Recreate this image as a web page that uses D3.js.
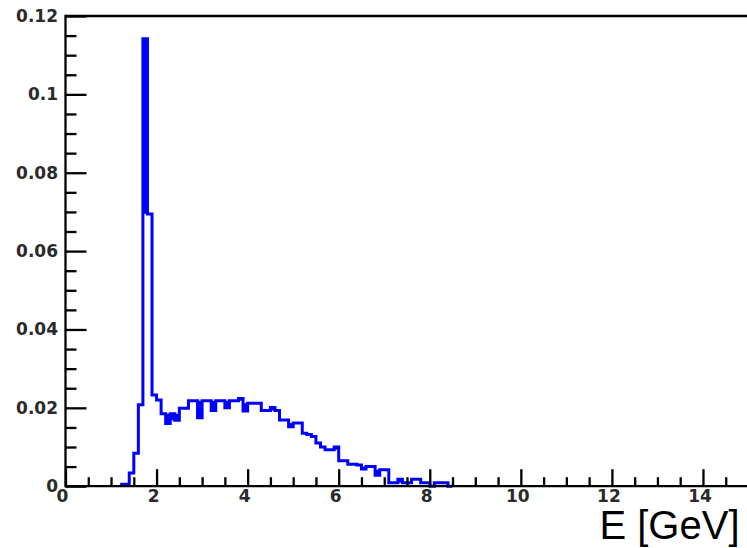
<!DOCTYPE html>
<html>
<head>
<meta charset="utf-8">
<script src="https://cdn.jsdelivr.net/npm/d3@7"></script>
<style>
  html, body { margin: 0; padding: 0; background: #fff; }
  svg { display: block; }
</style>
</head>
<body>
<svg id="chart" width="747" height="548"></svg>
<script>
// ---- data (histogram, bin width 0.1 GeV) ----
const binLow = [
  1.2, 1.3, 1.4, 1.5, 1.6, 1.7, 1.8, 1.9, 2.0, 2.1,
  2.2, 2.3, 2.4, 2.5, 2.6, 2.7, 2.8, 2.9, 3.0, 3.1,
  3.2, 3.3, 3.4, 3.5, 3.6, 3.7, 3.8, 3.9, 4.0, 4.1,
  4.2, 4.3, 4.4, 4.5, 4.6, 4.7, 4.8, 4.9, 5.0, 5.1,
  5.2, 5.3, 5.4, 5.5, 5.6, 5.7, 5.8, 5.9, 6.0, 6.1,
  6.2, 6.3, 6.4, 6.5, 6.6, 6.7, 6.8, 6.9, 7.0, 7.1,
  7.2, 7.3, 7.4, 7.5, 7.6, 7.7, 7.8, 7.9, 8.0, 8.1,
  8.2, 8.3, 8.4
];
const binWidth = 0.1;
const counts = [
  0.0005, 0.0005, 0.0034, 0.0084, 0.0208, 0.1142, 0.0695, 0.0233, 0.0220, 0.0185,
  0.0160, 0.0185, 0.0168, 0.0199, 0.0199, 0.0218, 0.0218, 0.0175, 0.0218, 0.0218,
  0.0193, 0.0218, 0.0218, 0.0200, 0.0218, 0.0218, 0.0224, 0.0192, 0.0212, 0.0212,
  0.0212, 0.0193, 0.0193, 0.0201, 0.0193, 0.0169, 0.0169, 0.0152, 0.0161, 0.0161,
  0.0135, 0.0132, 0.0127, 0.0110, 0.0100, 0.0093, 0.0093, 0.0100, 0.0065, 0.0065,
  0.0056, 0.0056, 0.0054, 0.0044, 0.0050, 0.0050, 0.0028, 0.0042, 0.0042, 0.0009,
  0.0009, 0.0018, 0.0009, 0.0009, 0.0018, 0.0018, 0.0009, 0.0009, 0.0000, 0.0009,
  0.0009, 0.0009, 0.0000
];
const xMajorTicks = [0, 2, 4, 6, 8, 10, 12, 14];
const xTickLabels = ["0", "2", "4", "6", "8", "10", "12", "14"];
const yMajorTicks = [0, 0.02, 0.04, 0.06, 0.08, 0.1, 0.12];
const yTickLabels = ["0", "0.02", "0.04", "0.06", "0.08", "0.1", "0.12"];
const xTitle = "E [GeV]";

// ---- layout ----
const svg = d3.select("#chart");
const padL = 65.5, padR = 748.5, padT = 16, padB = 486.2;
const x = d3.scaleLinear().domain([0, 15]).range([padL, padR]);
const y = d3.scaleLinear().domain([0, 0.12]).range([padB, padT]);

const xMinor = d3.range(0, 15.01, 0.5).filter(v => !xMajorTicks.some(m => Math.abs(m - v) < 1e-9));
const yMinor = d3.range(0, 0.1201, 0.005).filter(v => !yMajorTicks.some(m => Math.abs(m - v) < 1e-9));

// ---- single-bin spikes/dips look solid in the (thick-line) original ----
const blocks = [];
counts.forEach((c, i) => {
  if (i === 0 || i === counts.length - 1) return;
  const a = counts[i - 1], b = counts[i + 1];
  if (c < a && c < b && c > 0) blocks.push({ lo: binLow[i], v0: c, v1: Math.min(a, b) });
  if (c > a && c > b) blocks.push({ lo: binLow[i], v0: Math.max(a, b), v1: c });
});
svg.append("g").selectAll("rect").data(blocks).join("rect")
  .attr("x", d => x(d.lo))
  .attr("width", d => x(d.lo + binWidth) - x(d.lo))
  .attr("y", d => y(d.v1))
  .attr("height", d => y(d.v0) - y(d.v1))
  .attr("fill", "#0000ff");

// ---- histogram outline ----
const pts = [];
counts.forEach((c, i) => {
  pts.push([x(binLow[i]), y(c)]);
  pts.push([x(binLow[i] + binWidth), y(c)]);
});
svg.append("path")
  .attr("d", d3.line()(pts))
  .attr("fill", "none")
  .attr("stroke", "#0000ff")
  .attr("stroke-width", 3)
  .attr("stroke-linejoin", "miter")
  .attr("stroke-linecap", "butt");

// ---- axes ----
const tickFont = "'DejaVu Sans', Verdana, sans-serif";

const gx = svg.append("g").attr("transform", `translate(0,${padB})`);
gx.call(d3.axisBottom(x).tickValues(xMajorTicks).tickSize(-17).tickSizeOuter(0)
  .tickPadding(4).tickFormat((d, i) => xTickLabels[i]));
const gxm = svg.append("g").attr("transform", `translate(0,${padB})`);
gxm.call(d3.axisBottom(x).tickValues(xMinor).tickSize(-9).tickSizeOuter(0).tickFormat(""));
[gx, gxm].forEach(g => {
  g.select(".domain").remove();
  g.selectAll(".tick line").attr("stroke", "#000").attr("stroke-width", 2.3);
});
gx.selectAll(".tick text")
  .attr("font-family", tickFont).attr("font-weight", "bold").attr("font-size", 17)
  .attr("fill", "#2a2a2a").attr("dx", -3.5);

const gy = svg.append("g").attr("transform", `translate(${padL},0)`);
gy.call(d3.axisLeft(y).tickValues(yMajorTicks).tickSize(-21).tickSizeOuter(0)
  .tickPadding(7.5).tickFormat((d, i) => yTickLabels[i]));
const gym = svg.append("g").attr("transform", `translate(${padL},0)`);
gym.call(d3.axisLeft(y).tickValues(yMinor).tickSize(-11).tickSizeOuter(0).tickFormat(""));
[gy, gym].forEach(g => {
  g.select(".domain").remove();
  g.selectAll(".tick line").attr("stroke", "#000").attr("stroke-width", 2.3);
});
gy.selectAll(".tick text")
  .attr("font-family", tickFont).attr("font-weight", "bold").attr("font-size", 17)
  .attr("fill", "#2a2a2a");

// frame lines
svg.append("line").attr("x1", padL).attr("x2", 747).attr("y1", padB).attr("y2", padB)
  .attr("stroke", "#000").attr("stroke-width", 2.3);
svg.append("line").attr("x1", padL).attr("x2", padL).attr("y1", padT - 1.15).attr("y2", padB + 1.15)
  .attr("stroke", "#000").attr("stroke-width", 2.3);
svg.append("line").attr("x1", padL).attr("x2", 747).attr("y1", padT).attr("y2", padT)
  .attr("stroke", "#000").attr("stroke-width", 2.3);

// axis title
svg.append("text")
  .attr("x", 739.5).attr("y", 539)
  .attr("text-anchor", "end")
  .attr("font-family", "'Liberation Sans', Arial, Helvetica, sans-serif")
  .attr("font-size", 40)
  .attr("fill", "#000")
  .text(xTitle);
</script>
</body>
</html>
